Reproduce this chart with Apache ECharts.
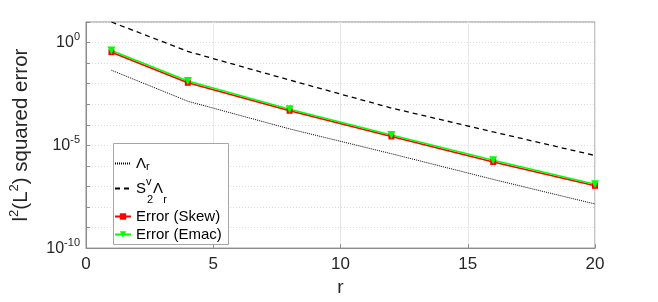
<!DOCTYPE html>
<html><head><meta charset="utf-8">
<script src="https://cdn.jsdelivr.net/npm/echarts@6/dist/echarts.min.js"></script>
<style>html,body{margin:0;padding:0;background:#fff}#c{width:658px;height:302px}</style>
</head><body><div id="c"></div>
<script>
const rValues = [1, 4, 8, 12, 16, 20];
const lambdaR = [4.5e-2, 1.4e-3, 6.3e-5, 3.9e-6, 2.2e-7, 1.4e-8];
const s2vLambdaR = [10, 0.37, 1.5e-2, 6.5e-4, 4.5e-5, 3.2e-6];
const errorSkew = [0.34, 1.1e-2, 4.8e-4, 2.7e-5, 1.55e-6, 1.07e-7];
const errorEmac = [0.41, 1.35e-2, 5.75e-4, 3.2e-5, 1.86e-6, 1.29e-7];
const xTicks = [0, 5, 10, 15, 20];
const yLabelExps = [0, -5, -10];
const legendNames = ['lambda', 's2v', 'skew', 'emac'];
const legendLabels = {
  lambda: '{n|Λ}{sub|r}',
  s2v: '{m|S}{supz|v}{sub2|2}{m|Λ}{sub2|r}',
  skew: '{p|Error (Skew)}',
  emac: '{p|Error (Emac)}'
};

const FONT = 'Liberation Sans';
const TXT = '#262626';
const pairs = a => rValues.map((x, i) => [x, a[i]]);

const legendRich = {
  n: {fontSize: 15, lineHeight: 18, color: '#000', fontFamily: FONT},
  sub: {fontSize: 11, lineHeight: 10, verticalAlign: 'bottom', color: '#000', fontFamily: FONT},
  m: {fontSize: 15, lineHeight: 18, color: '#000', fontFamily: FONT},
  supz: {fontSize: 11, lineHeight: 12, width: 1, padding: [0, 0, 14, 0], color: '#000', fontFamily: FONT},
  sub2: {fontSize: 11, lineHeight: 12, padding: [22, 0, 0, 0], color: '#000', fontFamily: FONT},
  p: {fontSize: 15, lineHeight: 18, color: '#000', fontFamily: FONT}
};
const legendTops = {lambda: 156, s2v: 172, skew: 209, emac: 227};

const legends = legendNames.map(nm => ({
  orient: 'vertical', left: 114, top: legendTops[nm], z: 10,
  padding: 0, itemGap: 0, itemWidth: 16, itemHeight: 8,
  data: [(nm === 'lambda' || nm === 's2v') ? {name: nm, itemStyle: {opacity: 0}} : nm],
  formatter: name => legendLabels[name],
  textStyle: {fontFamily: FONT, fontSize: 15, color: '#000', rich: legendRich}
}));

const chart = echarts.init(document.getElementById('c'), null, {renderer: 'canvas'});
chart.setOption({
  animation: false,
  backgroundColor: '#fff',
  textStyle: {fontFamily: FONT, color: TXT},
  grid: {left: 85, right: 63, top: 22, bottom: 51, show: true, borderColor: '#8c8c8c', borderWidth: 1, backgroundColor: 'transparent'},
  graphic: [{
    type: 'rect', left: 113, top: 143, z: 9, silent: true,
    shape: {width: 115, height: 101},
    style: {fill: '#fff', stroke: '#a6a6a6', lineWidth: 1}
  }],
  xAxis: {
    type: 'value', min: 0, max: 20, interval: 5,
    name: 'r', nameLocation: 'middle', nameGap: 27,
    nameTextStyle: {fontSize: 19, color: TXT, fontFamily: FONT},
    axisLine: {show: true, onZero: false, lineStyle: {color: '#8c8c8c'}},
    axisTick: {show: true, inside: true, length: 4, lineStyle: {color: '#8c8c8c'}},
    axisLabel: {fontSize: 17, color: TXT, margin: 8, fontFamily: FONT,
      formatter: v => xTicks.indexOf(v) >= 0 ? String(v) : ''},
    splitLine: {show: true, lineStyle: {color: '#e8e8e8', width: 1}}
  },
  yAxis: {
    type: 'log', logBase: 10, min: 1e-10, max: 10, interval: 1,
    name: '{n|l}{sup|2}{n|(L}{sup|2}{n|) squared error}',
    nameLocation: 'middle', nameGap: 52, nameRotate: 90,
    nameTextStyle: {color: TXT, fontFamily: FONT, fontSize: 20.5,
      rich: {
        n: {fontSize: 20.5, lineHeight: 26, color: TXT, fontFamily: FONT},
        sup: {fontSize: 13, lineHeight: 14, verticalAlign: 'top', color: TXT, fontFamily: FONT}
      }},
    axisLine: {show: true, lineStyle: {color: '#8c8c8c'}},
    axisTick: {show: true, inside: true, length: 4, lineStyle: {color: '#8c8c8c'}},
    axisLabel: {
      margin: 6, color: TXT, fontFamily: FONT,
      formatter: v => {
        const e = Math.round(Math.log10(v));
        if (yLabelExps.indexOf(e) < 0) return '';
        return '{b|10}{s|' + (e === 0 ? '0' : String(e)) + '}';
      },
      rich: {
        b: {fontSize: 16, lineHeight: 22, color: TXT, fontFamily: FONT},
        s: {fontSize: 11, lineHeight: 11, verticalAlign: 'top', color: TXT, fontFamily: FONT}
      }
    },
    splitLine: {show: true, lineStyle: {color: '#dcdcdc', type: [1, 2], width: 1}}
  },
  legend: legends,
  series: [
    {name: 'lambda', type: 'line', data: pairs(lambdaR), symbol: 'none',
      lineStyle: {color: '#000', width: 1, type: [1, 1]}, itemStyle: {color: '#000'}},
    {name: 's2v', type: 'line', data: pairs(s2vLambdaR), symbol: 'none',
      lineStyle: {color: '#000', width: 1.3, type: [5, 4]}, itemStyle: {color: '#000'}},
    {name: 'skew', type: 'line', data: pairs(errorSkew), symbol: 'rect', symbolSize: 6,
      lineStyle: {color: '#ff0000', width: 1.5}, itemStyle: {color: '#ff0000'}},
    {name: 'emac', type: 'line', data: pairs(errorEmac), symbol: 'triangle', symbolSize: 8, symbolRotate: 180,
      lineStyle: {color: '#00ff00', width: 1.5}, itemStyle: {color: '#00ff00'}}
  ]
});
</script></body></html>
